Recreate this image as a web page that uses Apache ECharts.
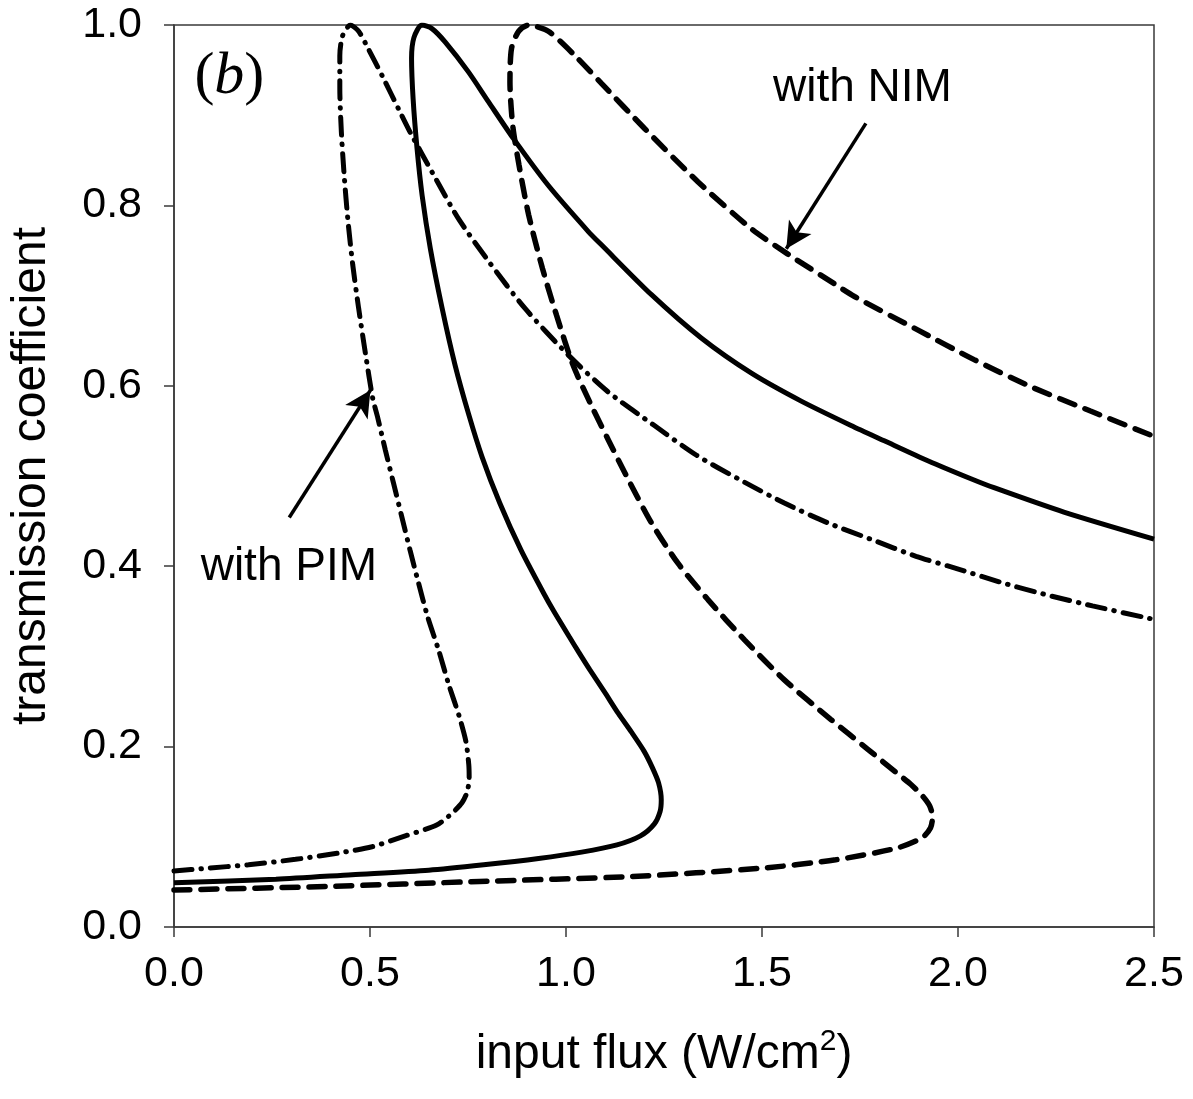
<!DOCTYPE html>
<html>
<head>
<meta charset="utf-8">
<script src="https://cdn.jsdelivr.net/npm/echarts@6/dist/echarts.min.js"></script>
<style>
html,body{margin:0;padding:0;background:#ffffff;}
#chart{width:1193px;height:1099px;}
</style>
</head>
<body>
<div id="chart"></div>
<script>
// ---- data ----
const xTickValues = [0.0, 0.5, 1.0, 1.5, 2.0, 2.5];
const yTickValues = [0.0, 0.2, 0.4, 0.6, 0.8, 1.0];

// dash-dot curve (with PIM): [input flux, transmission] along the curve
const curvePIM = [
  [0, 0.062], [0.08, 0.065], [0.19, 0.069], [0.31, 0.075], [0.42, 0.082],
  [0.505, 0.089], [0.59, 0.101], [0.67, 0.113], [0.709, 0.126], [0.735, 0.138],
  [0.748, 0.150], [0.753, 0.165], [0.752, 0.180], [0.745, 0.205], [0.728, 0.233],
  [0.700, 0.270], [0.675, 0.307], [0.647, 0.344], [0.624, 0.381], [0.602, 0.418],
  [0.581, 0.455], [0.560, 0.492], [0.539, 0.529], [0.519, 0.566], [0.507, 0.586],
  [0.489, 0.634], [0.471, 0.686], [0.456, 0.734], [0.444, 0.782], [0.434, 0.834],
  [0.427, 0.881], [0.423, 0.930], [0.423, 0.966], [0.430, 0.988], [0.450, 1.0],
  [0.471, 0.993], [0.494, 0.975], [0.533, 0.942], [0.575, 0.905], [0.605, 0.879],
  [0.662, 0.834], [0.726, 0.785], [0.806, 0.736], [0.895, 0.686], [1.006, 0.634],
  [1.108, 0.593], [1.222, 0.557], [1.333, 0.523], [1.443, 0.496], [1.557, 0.470],
  [1.668, 0.448], [1.783, 0.429], [1.893, 0.411], [2.007, 0.396], [2.118, 0.381],
  [2.228, 0.368], [2.343, 0.356], [2.5, 0.341]
];

// solid curve
const curveSolid = [
  [0, 0.049], [0.26, 0.053], [0.454, 0.058], [0.65, 0.063], [0.79, 0.069],
  [0.93, 0.076], [1.04, 0.083], [1.13, 0.091], [1.19, 0.101], [1.225, 0.114],
  [1.240, 0.128], [1.243, 0.141], [1.236, 0.160], [1.220, 0.177], [1.199, 0.195],
  [1.167, 0.216], [1.133, 0.237], [1.099, 0.260], [1.061, 0.285], [1.032, 0.305],
  [1.008, 0.322], [0.969, 0.350], [0.943, 0.370], [0.885, 0.418], [0.831, 0.470],
  [0.786, 0.521], [0.752, 0.568], [0.717, 0.623], [0.684, 0.686], [0.654, 0.752],
  [0.633, 0.811], [0.620, 0.863], [0.610, 0.918], [0.606, 0.963], [0.612, 0.986],
  [0.632, 1.0], [0.658, 0.996], [0.692, 0.981], [0.751, 0.948], [0.802, 0.915],
  [0.866, 0.874], [0.955, 0.822], [1.057, 0.771], [1.091, 0.756], [1.218, 0.701],
  [1.345, 0.653], [1.473, 0.614], [1.600, 0.583], [1.727, 0.556], [1.812, 0.539],
  [1.923, 0.517], [2.033, 0.497], [2.092, 0.487], [2.270, 0.460], [2.5, 0.430]
];

// dashed curve (with NIM)
const curveNIM = [
  [0, 0.041], [0.39, 0.045], [0.779, 0.0505], [1.169, 0.056], [1.494, 0.065],
  [1.688, 0.0745], [1.844, 0.0875], [1.909, 0.099], [1.930, 0.110], [1.935, 0.122],
  [1.928, 0.134], [1.910, 0.145], [1.880, 0.158], [1.840, 0.172], [1.770, 0.197],
  [1.676, 0.230], [1.557, 0.274], [1.456, 0.318], [1.362, 0.363], [1.286, 0.403],
  [1.218, 0.448], [1.159, 0.496], [1.108, 0.540], [1.066, 0.577], [1.018, 0.623],
  [0.976, 0.678], [0.940, 0.730], [0.905, 0.789], [0.880, 0.845], [0.864, 0.889],
  [0.857, 0.937], [0.861, 0.974], [0.879, 0.993], [0.904, 1.0], [0.955, 0.993],
  [1.023, 0.966], [1.091, 0.935], [1.201, 0.885], [1.337, 0.826], [1.473, 0.774],
  [1.566, 0.746], [1.685, 0.713], [1.736, 0.699], [1.897, 0.662], [2.041, 0.629],
  [2.186, 0.599], [2.338, 0.572], [2.5, 0.544]
];

// annotation texts and arrows (in data coordinates)
const labelNIM = { text: 'with NIM', at: [1.528, 0.930] };
const labelPIM = { text: 'with PIM', at: [0.068, 0.399] };
const labelPanel = { text: '({i|b})', at: [0.052, 0.942] };
const arrowNIM = [[1.765, 0.891], [1.562, 0.752]];
const arrowPIM = [[0.294, 0.454], [0.501, 0.595]];

const xName = 'input flux (W/cm{sup|2})';
const yName = 'transmission coefficient';

// ---- chart ----
const chart = echarts.init(document.getElementById('chart'), null, { renderer: 'canvas' });
const SANS = '"Liberation Sans", Arial, sans-serif';
const SERIF = '"Liberation Serif", "Times New Roman", serif';
const axisCol = '#3a3a3a';

const arrowLine = (pts) => ({
  silent: true,
  symbol: ['none', 'arrow'],
  symbolSize: [20, 26],
  label: { show: false },
  lineStyle: { color: '#000', width: 3.5, type: 'solid' },
  data: [[{ coord: pts[0] }, { coord: pts[1] }]]
});

chart.setOption({
  animation: false,
  backgroundColor: '#ffffff',
  grid: {
    left: 172, right: 39, top: 25, bottom: 172,
    show: true, borderColor: axisCol, borderWidth: 1.5, backgroundColor: 'transparent'
  },
  xAxis: {
    type: 'value', min: 0, max: 2.5, interval: 0.5,
    name: xName, nameLocation: 'middle', nameGap: 100,
    nameTextStyle: {
      fontFamily: SANS, fontSize: 48, color: '#000', lineHeight: 56,
      rich: { sup: { fontFamily: SANS, fontSize: 30, color: '#000', verticalAlign: 'top', lineHeight: 30 } }
    },
    axisLine: { show: true, lineStyle: { color: axisCol, width: 1.5 } },
    axisTick: { show: true, inside: false, length: 10, lineStyle: { color: axisCol, width: 1.5 } },
    axisLabel: {
      margin: 26, fontFamily: SANS, fontSize: 43, color: '#000',
      formatter: (v) => xTickValues.includes(+v.toFixed(1)) ? v.toFixed(1) : ''
    },
    splitLine: { show: false }
  },
  yAxis: {
    type: 'value', min: 0, max: 1, interval: 0.2,
    name: yName, nameLocation: 'middle', nameGap: 118, nameRotate: 90,
    nameTextStyle: { fontFamily: SANS, fontSize: 48, color: '#000' },
    axisLine: { show: true, lineStyle: { color: axisCol, width: 1.5 } },
    axisTick: { show: true, inside: false, length: 10, lineStyle: { color: axisCol, width: 1.5 } },
    axisLabel: {
      margin: 32, fontFamily: SANS, fontSize: 43, color: '#000',
      formatter: (v) => yTickValues.includes(+v.toFixed(1)) ? v.toFixed(1) : ''
    },
    splitLine: { show: false }
  },
  series: [
    {
      name: 'PIM', type: 'line', data: curvePIM, showSymbol: false, smooth: 0.25,
      lineStyle: { color: '#000', width: 5, type: [18, 9, 0.5, 9], cap: 'round' },
      markLine: arrowLine(arrowPIM), z: 3
    },
    {
      name: 'solid', type: 'line', data: curveSolid, showSymbol: false, smooth: 0.25,
      lineStyle: { color: '#000', width: 5, type: 'solid' }, z: 3
    },
    {
      name: 'NIM', type: 'line', data: curveNIM, showSymbol: false, smooth: 0.25,
      lineStyle: { color: '#000', width: 5.5, type: [16, 11], cap: 'round' },
      markLine: arrowLine(arrowNIM), z: 3
    }
  ]
});

function placeLabels() {
  const p = (c) => chart.convertToPixel({ xAxisIndex: 0, yAxisIndex: 0 }, c);
  const pn = p(labelNIM.at), pp = p(labelPIM.at), pb = p(labelPanel.at);
  chart.setOption({
    graphic: [
      { type: 'text', x: pn[0], y: pn[1], z: 10,
        style: { text: labelNIM.text, fontFamily: SANS, fontSize: 46, fill: '#000', align: 'left', verticalAlign: 'middle' } },
      { type: 'text', x: pp[0], y: pp[1], z: 10,
        style: { text: labelPIM.text, fontFamily: SANS, fontSize: 46, fill: '#000', align: 'left', verticalAlign: 'middle' } },
      { type: 'text', x: pb[0], y: pb[1], z: 10,
        style: { text: labelPanel.text, fontFamily: SERIF, fontSize: 60, fill: '#000', align: 'left', verticalAlign: 'middle',
                 rich: { i: { fontFamily: SERIF, fontStyle: 'italic', fontSize: 60, fill: '#000' } } } }
    ]
  });
}
placeLabels();
</script>
</body>
</html>
